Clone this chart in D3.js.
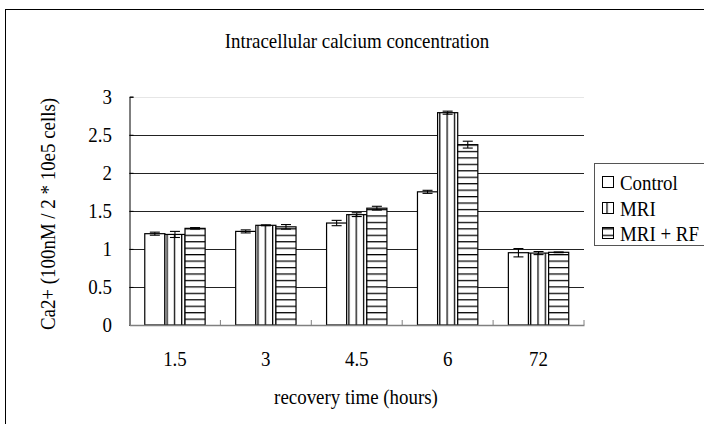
<!DOCTYPE html>
<html>
<head>
<meta charset="utf-8">
<script src="https://cdn.jsdelivr.net/npm/d3@7"></script>
<style>
  html, body { margin: 0; padding: 0; background: #fff; }
  svg { display: block; }
  text { font-family: "Liberation Serif", "DejaVu Serif", serif; fill: #000; }
</style>
</head>
<body>
<svg id="chart" width="704" height="424"></svg>
<script>
const categories = ["1.5", "3", "4.5", "6", "72"];
const seriesNames = ["Control", "MRI", "MRI + RF"];
const controlValues = [1.20, 1.23, 1.34, 1.75, 0.95];
const controlErrors = [0.02, 0.02, 0.035, 0.02, 0.055];
const mriValues = [1.19, 1.31, 1.45, 2.79, 0.945];
const mriErrors = [0.04, 0.006, 0.025, 0.02, 0.02];
const rfValues = [1.27, 1.29, 1.535, 2.37, 0.955];
const rfErrors = [0.01, 0.03, 0.025, 0.045, 0.005];
const yTickValues = [0, 0.5, 1, 1.5, 2, 2.5, 3];
const titleText = "Intracellular calcium concentration";
const xTitle = "recovery time (hours)";
const yTitle = "Ca2+  (100nM / 2 * 10e5 cells)";

const seriesValues = [controlValues, mriValues, rfValues];
const seriesErrors = [controlErrors, mriErrors, rfErrors];

const svg = d3.select("#chart");
const FS = 22, SX = 0.86;

const plot = { left: 129.5, right: 584, top: 96.7, bottom: 325 };

const x0 = d3.scaleBand().domain(categories).range([plot.left, plot.right]).padding(0);
const bw = x0.bandwidth();
const x1 = d3.scaleBand().domain(seriesNames).range([bw * 0.168, bw * 0.832]).padding(0);
const y = d3.scaleLinear().domain([0, 3]).range([plot.bottom, plot.top]);

// defs: patterns
const defs = svg.append("defs");
const vp = defs.append("pattern").attr("id", "vstripe").attr("patternUnits", "userSpaceOnUse")
  .attr("width", 7.3).attr("height", 10).attr("x", 0.5);
vp.append("rect").attr("width", 7.3).attr("height", 10).attr("fill", "#fff");
vp.append("line").attr("x1", 0.6).attr("x2", 0.6).attr("y1", 0).attr("y2", 10)
  .attr("stroke", "#000").attr("stroke-width", 1.3);
const hp = defs.append("pattern").attr("id", "hstripe").attr("patternUnits", "userSpaceOnUse")
  .attr("width", 10).attr("height", 6.45).attr("y", plot.bottom % 6.45);
hp.append("rect").attr("width", 10).attr("height", 6.45).attr("fill", "#fff");
hp.append("line").attr("x1", 0).attr("x2", 10).attr("y1", 0.6).attr("y2", 0.6)
  .attr("stroke", "#000").attr("stroke-width", 1.3);
const fills = ["#fff", "url(#vstripe)", "url(#hstripe)"];

// outer border
svg.append("rect").attr("x", 5.5).attr("y", 9.5).attr("width", 720).attr("height", 440)
  .attr("fill", "none").attr("stroke", "#000").attr("stroke-width", 1);

function stext(parent, x, yy, str, anchor, rot) {
  const g = parent.append("g").attr("transform",
    `translate(${x},${yy})` + (rot ? ` rotate(${rot})` : "") + ` scale(${SX},1)`);
  return g.append("text").attr("text-anchor", anchor || "middle")
    .attr("font-size", FS).text(str);
}

// title
stext(svg, 357, 48, titleText, "middle");

// gridlines
svg.append("g").selectAll("line").data(yTickValues.filter(v => v > 0))
  .join("line")
  .attr("x1", plot.left).attr("x2", plot.right)
  .attr("y1", d => Math.round(y(d)) + 0.5).attr("y2", d => Math.round(y(d)) + 0.5)
  .attr("stroke", d => d === 3 ? "#e6e6e6" : "#222").attr("stroke-width", 1);

// bars
const groups = svg.append("g").selectAll("g").data(categories).join("g")
  .attr("transform", d => `translate(${x0(d)},0)`);
groups.each(function(cat, ci) {
  const g = d3.select(this);
  seriesNames.forEach((s, si) => {
    const v = seriesValues[si][ci];
    g.append("rect")
      .attr("x", x1(s)).attr("y", y(v))
      .attr("width", x1.bandwidth()).attr("height", y(0) - y(v))
      .attr("fill", fills[si]).attr("stroke", "#000").attr("stroke-width", 1.2);
  });
  seriesNames.forEach((s, si) => {
    const v = seriesValues[si][ci], e = seriesErrors[si][ci];
    const cx = x1(s) + x1.bandwidth() / 2;
    const eg = g.append("g").attr("stroke", "#000").attr("stroke-width", 1.1);
    eg.append("line").attr("x1", cx).attr("x2", cx).attr("y1", y(v + e)).attr("y2", y(v - e));
    eg.append("line").attr("x1", cx - 5).attr("x2", cx + 5).attr("y1", y(v + e)).attr("y2", y(v + e));
    eg.append("line").attr("x1", cx - 5).attr("x2", cx + 5).attr("y1", y(v - e)).attr("y2", y(v - e));
  });
});

// y axis
const yAxis = d3.axisRight(y).tickValues(yTickValues).tickSize(4).tickFormat("");
const yg = svg.append("g").attr("transform", `translate(${plot.left},0)`).call(yAxis);
yg.select(".domain").attr("stroke", "#000");
yg.selectAll(".tick line").attr("stroke", "#000");
yTickValues.forEach(v => stext(svg, 112, y(v) + 7, d3.format("")(v), "end"));

// x axis
const xAxis = d3.axisTop(x0).tickSize(0).tickFormat("");
const xg = svg.append("g").attr("transform", `translate(0,${plot.bottom})`).call(xAxis);
xg.select(".domain").attr("stroke", "#808080").attr("stroke-width", 1.5);
const bounds = categories.map(c => x0(c) + bw);
svg.append("g").selectAll("line").data(bounds).join("line")
  .attr("x1", d => d).attr("x2", d => d).attr("y1", plot.bottom).attr("y2", plot.bottom - 5)
  .attr("stroke", "#808080");
categories.forEach(c => stext(svg, x0(c) + bw / 2, 366, c, "middle"));

// axis titles
stext(svg, 356, 404, xTitle, "middle");
stext(svg, 55, 214, yTitle, "middle", -90);

// legend
const lg = svg.append("g");
lg.append("rect").attr("x", 594.5).attr("y", 163.5).attr("width", 130).attr("height", 82)
  .attr("fill", "#fff").attr("stroke", "#555").attr("stroke-width", 1);
const legendY = [182, 208, 233];
seriesNames.forEach((s, i) => {
  lg.append("rect").attr("x", 602.5).attr("y", legendY[i] - 5.5).attr("width", 11).attr("height", 11)
    .attr("fill", fills[i]).attr("stroke", "#000").attr("stroke-width", 1);
  stext(lg, 620, legendY[i] + 7.5, s, "start");
});
</script>
</body>
</html>
